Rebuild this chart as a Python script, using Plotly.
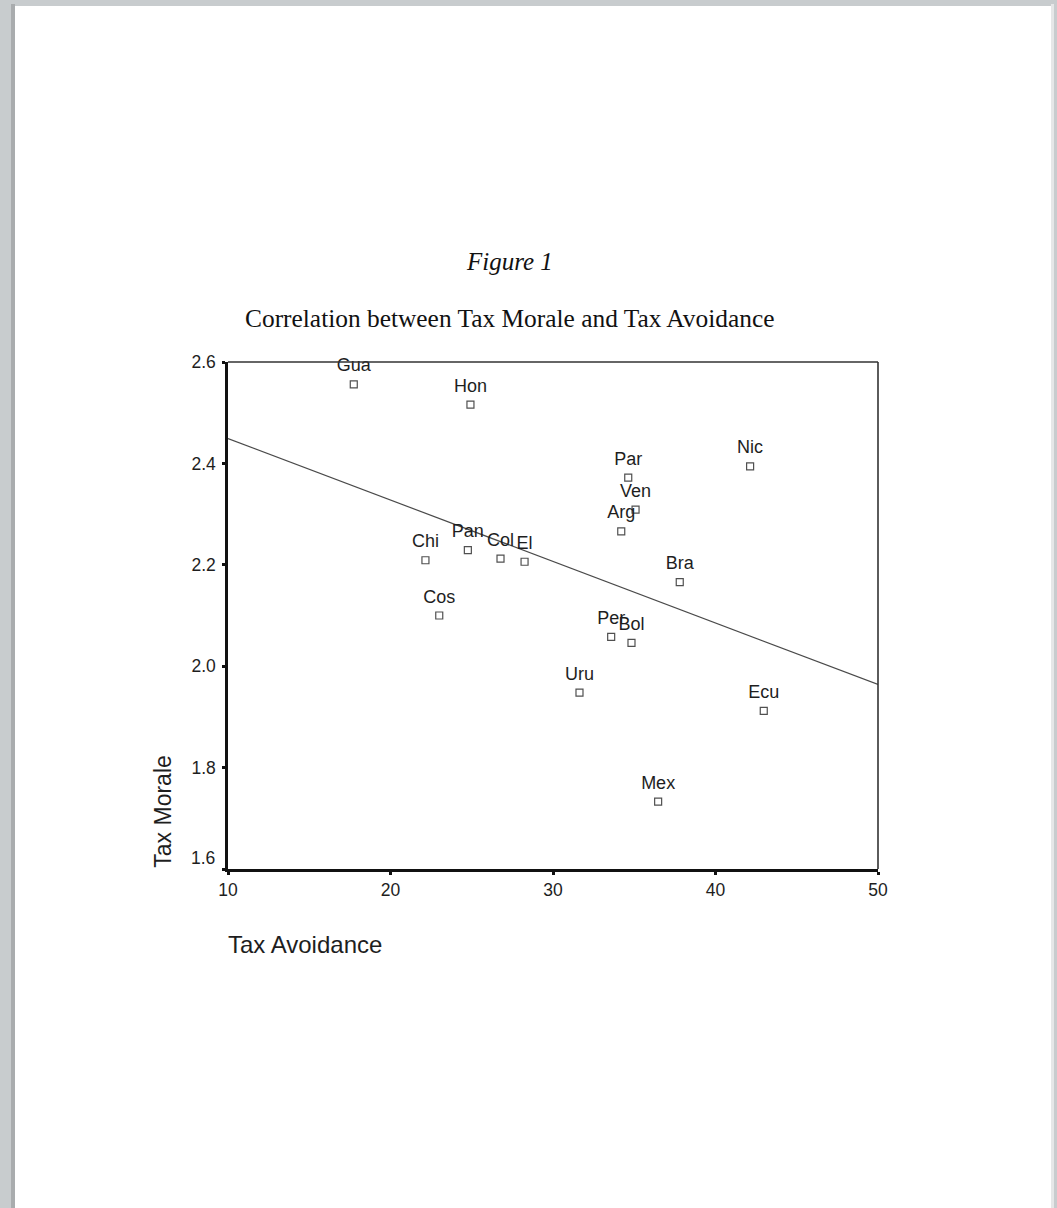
import plotly.graph_objects as go

# ---- data ----
countries = ["Gua", "Hon", "Chi", "Pan", "Col", "El", "Cos", "Par", "Ven", "Arg",
             "Nic", "Bra", "Per", "Bol", "Uru", "Ecu", "Mex"]
tax_avoidance = [17.74, 24.92, 22.15, 24.76, 26.77, 28.25, 23.0, 34.63, 35.08, 34.2,
                 42.13, 37.8, 33.58, 34.83, 31.63, 42.97, 36.47]
tax_morale = [2.556, 2.516, 2.209, 2.229, 2.212, 2.206, 2.100, 2.372, 2.309, 2.266,
              2.394, 2.166, 2.058, 2.046, 1.948, 1.912, 1.733]
fit_x = [10, 50]
fit_y = [2.449, 1.964]
x_ticks = [10, 20, 30, 40, 50]
y_ticks = [1.6, 1.8, 2.0, 2.2, 2.4, 2.6]
y_tick_labels = ["1.6", "1.8", "2.0", "2.2", "2.4", "2.6"]

W, H = 1057, 1208
L, R, T, B = 228, 878, 362, 869  # plot area in pixels


def px(xp):
    return (xp - L) / (R - L)


def py(yp):
    return (B - yp) / (B - T)


fig = go.Figure()

fig.add_trace(go.Scatter(
    x=fit_x, y=fit_y, mode="lines",
    line=dict(color="#4a4a4a", width=1.2),
    hoverinfo="skip", showlegend=False, cliponaxis=False,
))

# visible open-square markers
fig.add_trace(go.Scatter(
    x=tax_avoidance, y=tax_morale, mode="markers",
    marker=dict(symbol="square-open", size=7, color="#505050", line=dict(width=1.2)),
    showlegend=False, cliponaxis=False, hoverinfo="skip",
))
# country labels above the markers
fig.add_trace(go.Scatter(
    x=tax_avoidance, y=tax_morale, mode="markers+text",
    text=countries, textposition="top center",
    textfont=dict(family="Liberation Sans, Arial", size=18, color="#1e1e1e"),
    marker=dict(size=12, color="rgba(0,0,0,0)"),
    showlegend=False, cliponaxis=False,
))

# label for the lowest y tick is raised above the x axis as in the reference
shown_labels = [("" if v == y_ticks[0] else t) for v, t in zip(y_ticks, y_tick_labels)]

fig.update_xaxes(
    range=[10, 50], tickvals=x_ticks, ticks="outside", ticklen=3, tickwidth=3,
    tickcolor="#111", showline=True, linecolor="#111", linewidth=2.5,
    showgrid=False, zeroline=False,
    tickfont=dict(family="Liberation Sans, Arial", size=17.5, color="#1e1e1e"),
)
fig.update_yaxes(
    range=[1.6, 2.6], tickvals=y_ticks, ticktext=shown_labels, ticks="outside",
    ticklen=3, tickwidth=3, tickcolor="#111", showline=True, linecolor="#111",
    linewidth=2.5, showgrid=False, zeroline=False, ticklabelstandoff=3,
    tickfont=dict(family="Liberation Sans, Arial", size=17.5, color="#1e1e1e"),
)

annotations = [
    dict(x=0, xref="x domain", y=y_ticks[0], yref="y", text=y_tick_labels[0],
         showarrow=False, xanchor="right", yanchor="middle", xshift=-11, yshift=11,
         font=dict(family="Liberation Sans, Arial", size=17.5, color="#1e1e1e")),
    dict(x=px(509.5), y=py(261), xref="paper", yref="paper", text="<i>Figure 1</i>",
         showarrow=False, xanchor="center", yanchor="middle",
         font=dict(family="Liberation Serif, Times New Roman", size=25, color="#111")),
    dict(x=px(509.5), y=py(318), xref="paper", yref="paper",
         text="Correlation between Tax Morale and Tax Avoidance",
         showarrow=False, xanchor="center", yanchor="middle",
         font=dict(family="Liberation Serif, Times New Roman", size=25.4, color="#111")),
    dict(x=px(162.7), y=py(870), xref="paper", yref="paper", text="Tax Morale",
         textangle=-90, showarrow=False, xanchor="center", yanchor="bottom",
         font=dict(family="Liberation Sans, Arial", size=23, color="#1e1e1e")),
    dict(x=px(226), y=py(944), xref="paper", yref="paper", text="Tax Avoidance",
         showarrow=False, xanchor="left", yanchor="middle",
         font=dict(family="Liberation Sans, Arial", size=24, color="#1e1e1e")),
]

shapes = [
    # page background
    dict(type="rect", xref="paper", yref="paper", x0=px(11), x1=px(15),
         y0=py(1230), y1=py(4), fillcolor="#a9acae", line_width=0, layer="below"),
    dict(type="rect", xref="paper", yref="paper", x0=px(1051), x1=px(1054),
         y0=py(1230), y1=py(4), fillcolor="#e6e7e8", line_width=0, layer="below"),
    dict(type="rect", xref="paper", yref="paper", x0=px(15), x1=px(1051),
         y0=py(1230), y1=py(6), fillcolor="white", line_width=0, layer="below"),
    # top/right frame of the plot
    dict(type="line", xref="paper", yref="paper", x0=0, x1=1, y0=1, y1=1,
         line=dict(color="#333", width=1.6)),
    dict(type="line", xref="paper", yref="paper", x0=1, x1=1, y0=0, y1=1,
         line=dict(color="#333", width=1.6)),
]

fig.update_layout(
    width=W, height=H, autosize=False,
    margin=dict(l=L, r=W - R, t=T, b=H - B, pad=0),
    paper_bgcolor="#c8ccce", plot_bgcolor="white",
    annotations=annotations, shapes=shapes,
    font=dict(family="Liberation Sans, Arial", color="#1e1e1e"),
)

fig.write_html(
    "out.html",
    config={"displayModeBar": False},
    post_script="document.body.style.margin='0';"
                "document.body.style.overflow='hidden';"
                "document.body.style.background='#c8ccce';",
)
